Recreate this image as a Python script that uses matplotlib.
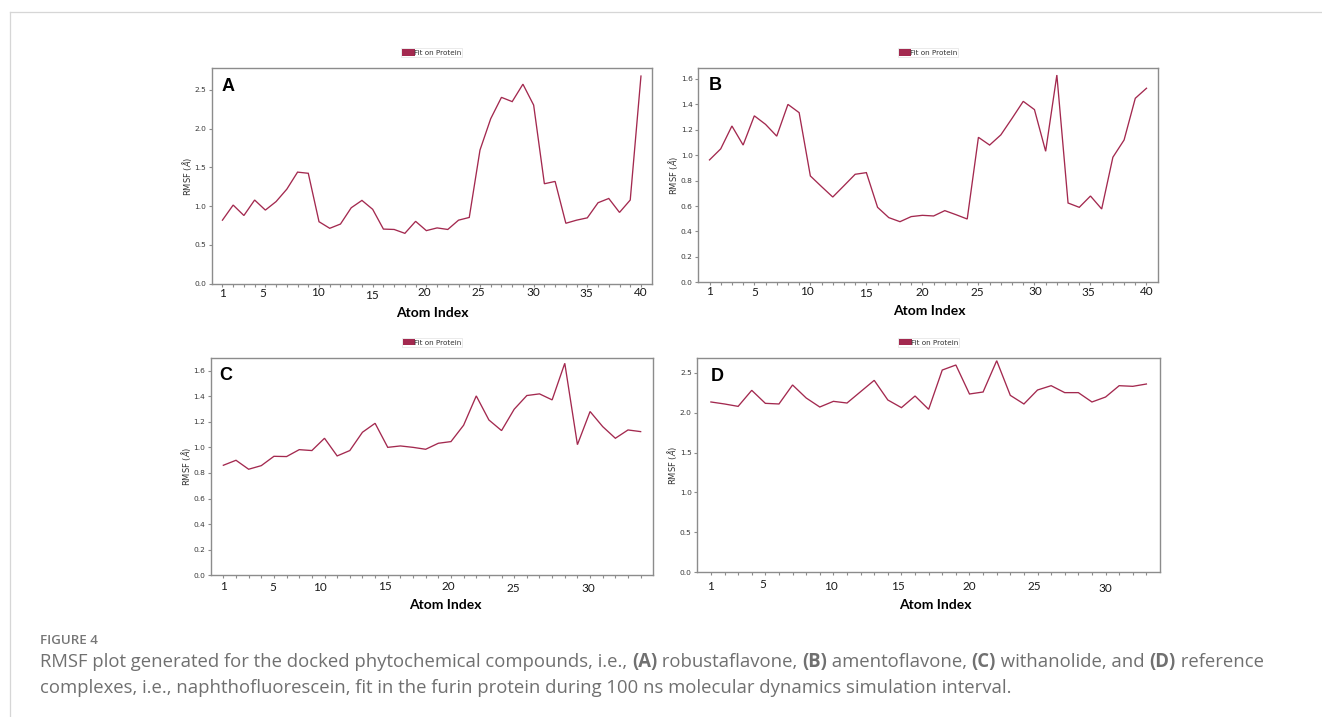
import matplotlib
matplotlib.use("Agg")
import matplotlib.pyplot as plt
import matplotlib.transforms as mtransforms
from matplotlib.patches import Patch
from matplotlib.lines import Line2D
import numpy as np

W, H, DPI = 1322, 717, 100

# RMSF per atom index (Å)
rmsf_a = [0.82, 1.015, 0.88, 1.08, 0.95, 1.06, 1.22, 1.44, 1.425, 0.80,
          0.715, 0.77, 0.98, 1.075, 0.96, 0.705, 0.70, 0.65, 0.805, 0.685,
          0.72, 0.70, 0.82, 0.855, 1.725, 2.13, 2.405, 2.35, 2.575, 2.305,
          1.29, 1.32, 0.78, 0.82, 0.85, 1.045, 1.10, 0.92, 1.08, 2.68]
rmsf_b = [0.963, 1.05, 1.23, 1.08, 1.31, 1.243, 1.15, 1.40, 1.335, 0.837,
          0.753, 0.671, 0.76, 0.85, 0.863, 0.59, 0.509, 0.477, 0.517, 0.527,
          0.522, 0.564, 0.532, 0.498, 1.141, 1.08, 1.16, 1.29, 1.424, 1.359,
          1.031, 1.631, 0.624, 0.59, 0.679, 0.577, 0.984, 1.12, 1.448, 1.527]
rmsf_c = [0.86, 0.899, 0.829, 0.857, 0.93, 0.928, 0.982, 0.975, 1.071, 0.933,
          0.975, 1.118, 1.188, 1.0, 1.011, 1.0, 0.985, 1.032, 1.045, 1.173,
          1.402, 1.214, 1.131, 1.298, 1.405, 1.418, 1.371, 1.657, 1.021, 1.28,
          1.162, 1.071, 1.136, 1.123]
rmsf_d = [2.133, 2.108, 2.078, 2.279, 2.116, 2.108, 2.346, 2.183, 2.07, 2.141,
          2.12, 2.262, 2.404, 2.158, 2.062, 2.208, 2.041, 2.533, 2.596, 2.233,
          2.258, 2.65, 2.216, 2.108, 2.283, 2.337, 2.25, 2.25, 2.133, 2.195,
          2.337, 2.329, 2.358]

yticks_a = [0.0, 0.5, 1.0, 1.5, 2.0, 2.5]
yticks_b = [0.0, 0.2, 0.4, 0.6, 0.8, 1.0, 1.2, 1.4, 1.6]
yticks_c = [0.0, 0.2, 0.4, 0.6, 0.8, 1.0, 1.2, 1.4, 1.6]
yticks_d = [0.0, 0.5, 1.0, 1.5, 2.0, 2.5]

xlabels_a = ["1", "5", "10", "15", "20", "25", "30", "35", "40"]
xlabels_b = ["1", "5", "10", "15", "20", "25", "30", "35", "40"]
xlabels_c = ["1", "5", "10", "15", "20", "25", "30"]
xlabels_d = ["1", "5", "10", "15", "20", "25", "30"]

series_name = "Fit on Protein"
panel_letters = ["A", "B", "C", "D"]

# where each hand-set index label sits along the axis, and its small vertical nudge (px)
xlabel_at_a = [1, 4.8, 9.9, 14.95, 19.85, 24.8, 30, 34.9, 40]
xlabel_at_b = [1, 5, 9.7, 15, 20, 24.9, 30.1, 34.8, 40]
xlabel_at_c = [1, 4.9, 8.6, 13.8, 18.8, 23.9, 29.9]
xlabel_at_d = [1, 4.8, 9.8, 14.75, 20, 24.8, 30]
xlabel_dy_a = [0, 0, -0.5, 1.7, -0.5, -0.5, -0.5, 0, -0.5]
xlabel_dy_b = [0, 1, 0, 2, 0.7, 0.7, 0, 0.7, 0]
xlabel_dy_c = [0, 0.7, 1, 0.3, 0.3, 2, 2]
xlabel_dy_d = [0, -1.7, 0.3, 0, 0.7, 0, 2.3]

LINE = "#a3294f"
SPINE = "#8c8c8c"
TICKTXT = "#3a3a3a"

fig = plt.figure(figsize=(W / DPI, H / DPI), dpi=DPI)
fig.patch.set_facecolor("white")


def px_rect(l, t, r, b):
    return [l / W, 1 - b / H, (r - l) / W, (b - t) / H]


def fig_xy(x, y):
    return x / W, 1 - y / H


panels = [
    dict(vals=rmsf_a, yt=yticks_a, ytop=2.78, box=(211.7, 68.3, 651.7, 283.7),
         labs=xlabels_a, at=xlabel_at_a, dy=xlabel_dy_a, lab_off=9.7,
         letter=(227.7, 86.7), ylab=(187.3, 176), xlab=(432.7, 313.3), leg=52.7),
    dict(vals=rmsf_b, yt=yticks_b, ytop=1.684, box=(698.3, 68.3, 1157.7, 282.3),
         labs=xlabels_b, at=xlabel_at_b, dy=xlabel_dy_b, lab_off=9.3,
         letter=(715.7, 86.0), ylab=(673.3, 175), xlab=(929.0, 310.7), leg=52.7),
    dict(vals=rmsf_c, yt=yticks_c, ytop=1.696, box=(210.7, 358.3, 653.3, 575.3),
         labs=xlabels_c, at=xlabel_at_c, dy=xlabel_dy_c, lab_off=11.3,
         letter=(225.7, 375.0), ylab=(186.0, 466.7), xlab=(445.7, 605.3), leg=342.3),
    dict(vals=rmsf_d, yt=yticks_d, ytop=2.68, box=(697.3, 358.3, 1160.0, 572.3),
         labs=xlabels_d, at=xlabel_at_d, dy=xlabel_dy_d, lab_off=13.7,
         letter=(717.3, 376.7), ylab=(672.0, 465.0), xlab=(935.0, 605.3), leg=342.3),
]

for letter, p in zip(panel_letters, panels):
    ax = fig.add_axes(px_rect(*p["box"]))
    vals = p["vals"]
    n = len(vals)
    idx = np.arange(1, n + 1)
    ax.plot(idx, vals, color=LINE, lw=0.95, solid_joinstyle="miter")
    ax.set_xlim(0, n + 1)
    ax.set_ylim(0, p["ytop"])
    for s in ax.spines.values():
        s.set_color(SPINE)
        s.set_linewidth(1.0)

    ax.set_yticks(p["yt"])
    ax.set_yticklabels([f"{v:.1f}" for v in p["yt"]])
    ax.tick_params(axis="y", length=2.5, width=0.8, color=SPINE,
                   labelsize=5.4, labelcolor=TICKTXT, pad=1.5)

    ax.set_xticks([])
    ax.set_xticks(idx, minor=True)
    ax.tick_params(axis="x", which="minor", length=2.5, width=0.8, color=SPINE)

    for txt, pos, dy in zip(p["labs"], p["at"], p["dy"]):
        tr = mtransforms.blended_transform_factory(ax.transData, ax.transAxes) + \
            mtransforms.ScaledTranslation(0, -(p["lab_off"] + dy) / DPI, fig.dpi_scale_trans)
        ax.text(pos, 0, txt, transform=tr, ha="center", va="center",
                fontsize=8.5, family="Lato", color="#1a1a1a")

    l, t, r, b = p["box"]
    leg = ax.legend(handles=[Patch(facecolor=LINE, edgecolor="none")],
                    labels=[series_name], loc="center",
                    bbox_to_anchor=fig_xy((l + r) / 2, p["leg"]),
                    bbox_transform=fig.transFigure, fontsize=5.2,
                    handlelength=1.7, handleheight=1.0, handletextpad=-0.1,
                    borderpad=0.15, borderaxespad=0, fancybox=False,
                    framealpha=1, edgecolor="#e6e6e6")
    leg.get_frame().set_linewidth(0.6)
    for tx in leg.get_texts():
        tx.set_color("#333333")

    fig.text(*fig_xy(*p["letter"]), letter, ha="center", va="center",
             fontsize=13, fontweight="bold", family="Liberation Sans")
    fig.text(*fig_xy(*p["ylab"]), r"RMSF ($\AA$)", rotation=90, ha="center",
             va="center", fontsize=6.0, color="#333333")
    fig.text(*fig_xy(*p["xlab"]), "Atom Index", ha="center", va="center",
             fontsize=10, fontweight="bold", family="Lato")

# page frame
frame_c = "#d6d6d6"
fig.add_artist(Line2D([9.5 / W, 9.5 / W], [1 - 12.3 / H, 0], transform=fig.transFigure,
                      color=frame_c, lw=0.9))
fig.add_artist(Line2D([9.5 / W, 1], [1 - 12.3 / H, 1 - 12.3 / H], transform=fig.transFigure,
                      color=frame_c, lw=0.9))

# caption
renderer = fig.canvas.get_renderer()
CAP = "#707070"


def text_width(s, size, weight):
    probe = fig.text(0, 0, "x" + s + "x", fontsize=size, family="Open Sans", fontweight=weight)
    ref = fig.text(0, 0, "xx", fontsize=size, family="Open Sans", fontweight=weight)
    w = probe.get_window_extent(renderer).width - ref.get_window_extent(renderer).width
    probe.remove()
    ref.remove()
    return w


def draw_runs(x0, y0, runs, size):
    x = x0
    for s, bold in runs:
        wt = "bold" if bold else "normal"
        fig.text(*fig_xy(x, y0), s, fontsize=size, family="Open Sans",
                 fontweight=wt, color=CAP, ha="left", va="baseline")
        x += text_width(s, size, wt)
    return x - x0


line1 = [("RMSF plot generated for the docked phytochemical compounds, i.e., ", False),
         ("(A)", True), (" robustaflavone, ", False), ("(B)", True),
         (" amentoflavone, ", False), ("(C)", True), (" withanolide, and ", False),
         ("(D)", True), (" reference", False)]
line2 = [("complexes, i.e., naphthofluorescein, fit in the furin protein during 100 ns "
          "molecular dynamics simulation interval.", False)]

base = 12.0
w1 = sum(text_width(s, base, "bold" if b else "normal") for s, b in line1)
cap_size = base * (1220.0 / w1)

fig.text(*fig_xy(40, 643.5), "FIGURE 4", fontsize=9.6, family="Open Sans",
         fontweight="semibold", color="#777777", ha="left", va="baseline")
draw_runs(40, 667, line1, cap_size)
draw_runs(40, 693, line2, cap_size)

fig.savefig("out.png", dpi=DPI, facecolor="white")
